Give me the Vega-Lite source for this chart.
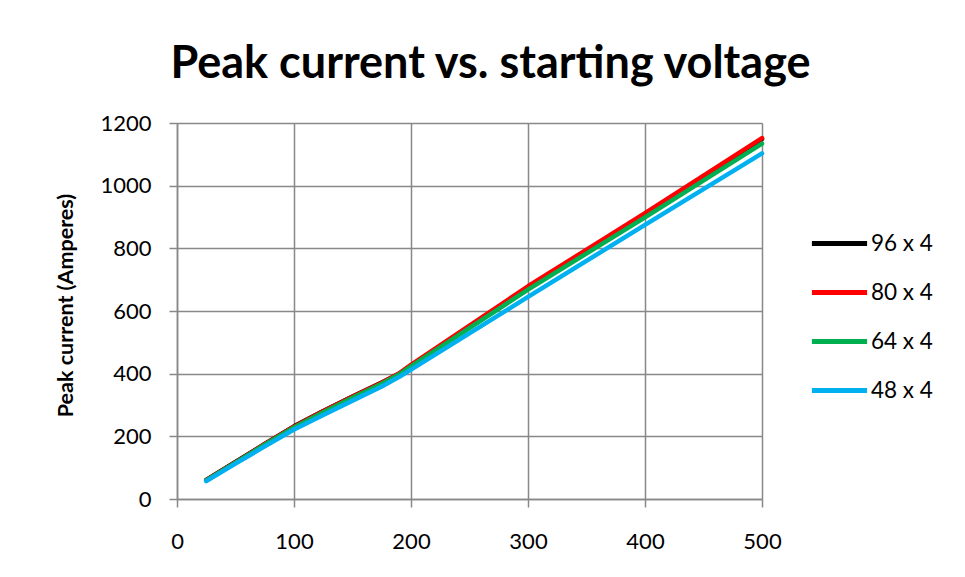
{
  "$schema": "https://vega.github.io/schema/vega-lite/v6.json",
  "width": 585,
  "height": 376,
  "autosize": {"type": "none"},
  "padding": {"left": 177, "top": 123, "right": 203, "bottom": 78},
  "background": "white",
  "config": {
    "font": "Lato",
    "view": {"stroke": null},
    "axis": {
      "gridColor": "#888888",
      "gridWidth": 1.5,
      "gridOpacity": 1,
      "domainColor": "#888888",
      "domainWidth": 1.5,
      "tickColor": "#888888",
      "tickWidth": 1.5,
      "tickSize": 8,
      "labelFontSize": 22,
      "labelColor": "#000000",
      "labelFont": "Lato",
      "labelFlush": false,
      "format": "d"
    }
  },
  "title": {
    "text": "Peak current vs. starting voltage",
    "font": "Lato",
    "fontSize": 45,
    "fontWeight": "bold",
    "color": "#000000",
    "anchor": "middle",
    "frame": "group",
    "dx": 21,
    "baseline": "alphabetic",
    "offset": -11
  },
  "data": {
    "values": [
      {"voltage": 25, "current": 61, "series": "96 x 4"},
      {"voltage": 50, "current": 118, "series": "96 x 4"},
      {"voltage": 75, "current": 176, "series": "96 x 4"},
      {"voltage": 100, "current": 232, "series": "96 x 4"},
      {"voltage": 125, "current": 281, "series": "96 x 4"},
      {"voltage": 150, "current": 327, "series": "96 x 4"},
      {"voltage": 175, "current": 372, "series": "96 x 4"},
      {"voltage": 190, "current": 400, "series": "96 x 4"},
      {"voltage": 200, "current": 426, "series": "96 x 4"},
      {"voltage": 300, "current": 676, "series": "96 x 4"},
      {"voltage": 400, "current": 909, "series": "96 x 4"},
      {"voltage": 500, "current": 1149, "series": "96 x 4"},
      {"voltage": 25, "current": 60, "series": "80 x 4"},
      {"voltage": 50, "current": 117, "series": "80 x 4"},
      {"voltage": 75, "current": 175, "series": "80 x 4"},
      {"voltage": 100, "current": 231, "series": "80 x 4"},
      {"voltage": 125, "current": 280, "series": "80 x 4"},
      {"voltage": 150, "current": 326, "series": "80 x 4"},
      {"voltage": 175, "current": 371, "series": "80 x 4"},
      {"voltage": 190, "current": 401, "series": "80 x 4"},
      {"voltage": 200, "current": 428, "series": "80 x 4"},
      {"voltage": 300, "current": 679, "series": "80 x 4"},
      {"voltage": 400, "current": 912, "series": "80 x 4"},
      {"voltage": 500, "current": 1152, "series": "80 x 4"},
      {"voltage": 25, "current": 59, "series": "64 x 4"},
      {"voltage": 50, "current": 116, "series": "64 x 4"},
      {"voltage": 75, "current": 173, "series": "64 x 4"},
      {"voltage": 100, "current": 228, "series": "64 x 4"},
      {"voltage": 125, "current": 277, "series": "64 x 4"},
      {"voltage": 150, "current": 323, "series": "64 x 4"},
      {"voltage": 175, "current": 368, "series": "64 x 4"},
      {"voltage": 190, "current": 398, "series": "64 x 4"},
      {"voltage": 200, "current": 423, "series": "64 x 4"},
      {"voltage": 300, "current": 668, "series": "64 x 4"},
      {"voltage": 400, "current": 899, "series": "64 x 4"},
      {"voltage": 500, "current": 1134, "series": "64 x 4"},
      {"voltage": 25, "current": 57, "series": "48 x 4"},
      {"voltage": 50, "current": 113, "series": "48 x 4"},
      {"voltage": 75, "current": 168, "series": "48 x 4"},
      {"voltage": 100, "current": 222, "series": "48 x 4"},
      {"voltage": 125, "current": 268, "series": "48 x 4"},
      {"voltage": 150, "current": 314, "series": "48 x 4"},
      {"voltage": 175, "current": 359, "series": "48 x 4"},
      {"voltage": 190, "current": 390, "series": "48 x 4"},
      {"voltage": 200, "current": 413, "series": "48 x 4"},
      {"voltage": 300, "current": 645, "series": "48 x 4"},
      {"voltage": 400, "current": 875, "series": "48 x 4"},
      {"voltage": 500, "current": 1103, "series": "48 x 4"}
    ]
  },
  "mark": {"type": "line", "strokeWidth": 4.5, "strokeCap": "round", "strokeJoin": "round"},
  "encoding": {
    "x": {
      "field": "voltage",
      "type": "quantitative",
      "scale": {"domain": [0, 500], "nice": false},
      "axis": {"values": [0, 100, 200, 300, 400, 500], "title": null, "labelPadding": 24}
    },
    "y": {
      "field": "current",
      "type": "quantitative",
      "scale": {"domain": [0, 1200], "nice": false},
      "axis": {
        "values": [0, 200, 400, 600, 800, 1000, 1200],
        "title": "Peak current (Amperes)",
        "titleFont": "Lato",
        "titleFontSize": 21.5,
        "titleFontWeight": "bold",
        "titleColor": "#000000",
        "titlePadding": 22,
        "titleY": 182,
        "labelPadding": 18
      }
    },
    "color": {
      "field": "series",
      "type": "nominal",
      "sort": ["96 x 4", "80 x 4", "64 x 4", "48 x 4"],
      "scale": {
        "domain": ["96 x 4", "80 x 4", "64 x 4", "48 x 4"],
        "range": ["#000000", "#FF0000", "#00B050", "#00B0F0"]
      },
      "legend": {
        "title": null,
        "orient": "none",
        "legendX": 636,
        "legendY": 94,
        "padding": 0,
        "rowPadding": 11,
        "symbolType": "M-1.15,0L1.15,0",
        "symbolSize": 2304,
        "symbolStrokeWidth": 5,
        "labelFontSize": 22.5,
        "labelFont": "Lato",
        "labelColor": "#000000",
        "labelOffset": 5
      }
    }
  }
}
